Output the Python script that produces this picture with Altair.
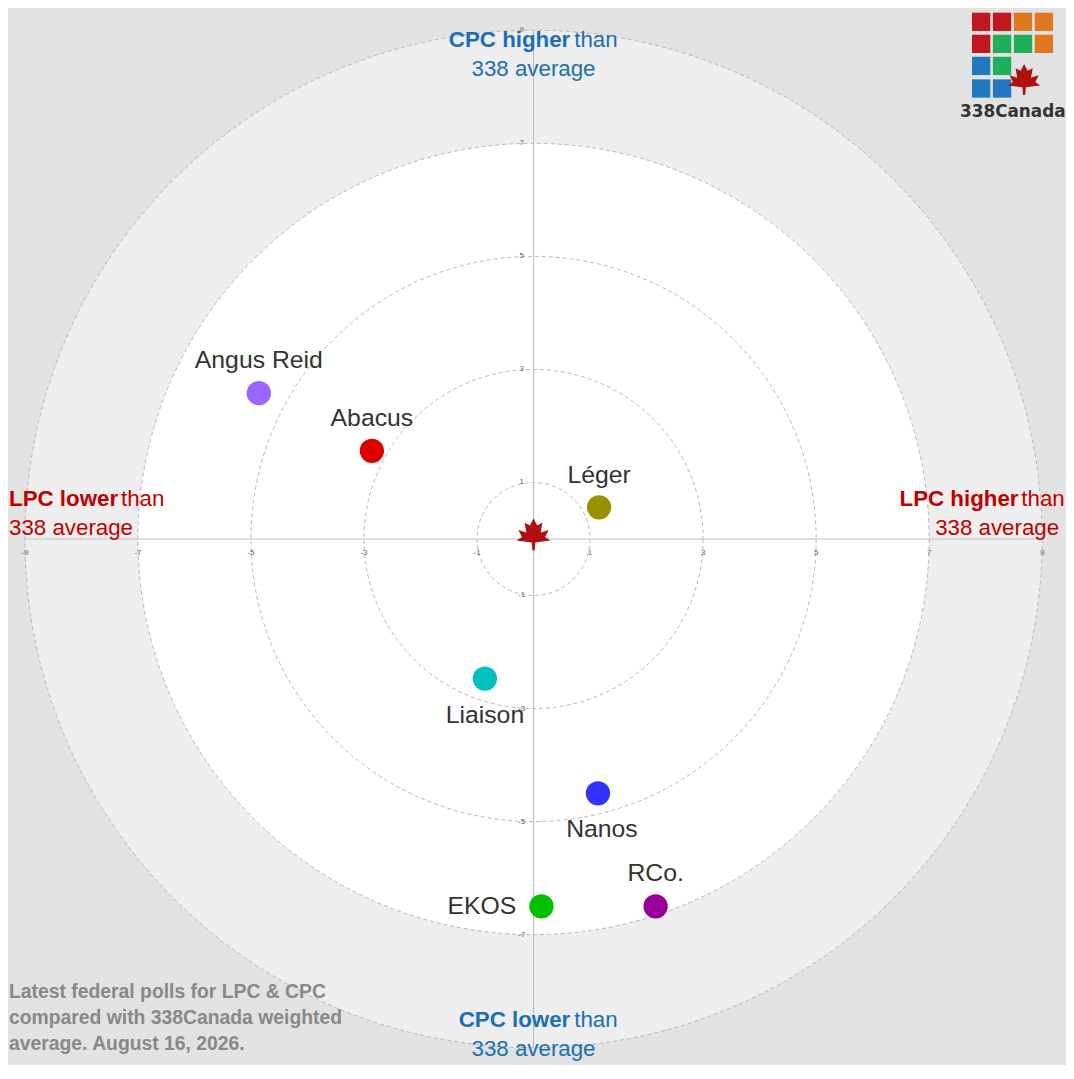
import altair as alt
import pandas as pd

# poll differences vs 338 average (LPC on x, CPC on y)
firms = ["Angus Reid", "Abacus", "Léger", "Liaison", "Nanos", "EKOS", "RCo."]
lpc_diff = [-4.86, -2.86, 1.16, -0.86, 1.14, 0.14, 2.16]
cpc_diff = [2.58, 1.56, 0.56, -2.47, -4.5, -6.5, -6.5]
colors = ["#9966ff", "#dd0000", "#999000", "#00c0c0", "#3333ff", "#00c000", "#990099"]
label_dx = [0, 0, 0, 0, 4, -60, 0]
label_dy = [-33, -33, -33, 37, 36, 0, -34]

ticks = [-9, -7, -5, -3, -1, 1, 3, 5, 7, 9]
rings = [9, 7, 5, 3, 1]
ring_fill = ["#eeeeee", "#ffffff", None, None, None]

PX = 57.0  # pixels per unit
W, H = 1050, 1050
cx, cy = 530, 531
xdom = [-cx / PX, (W - cx) / PX]
ydom = [-(H - cy) / PX, cy / PX]
X = alt.X("x:Q", scale=alt.Scale(domain=xdom), axis=None)
Y = alt.Y("y:Q", scale=alt.Scale(domain=ydom), axis=None)

layers = []
for r, f in zip(rings, ring_fill):
    d = pd.DataFrame({"x": [0], "y": [0]})
    kw = dict(shape="circle", size=(2 * r * PX) ** 2, stroke="#b5b5b5",
              strokeWidth=1, strokeDash=[4, 3], opacity=1)
    if f:
        m = alt.Chart(d).mark_point(filled=True, fill=f, **kw)
    else:
        m = alt.Chart(d).mark_point(filled=False, fill="transparent", **kw)
    layers.append(m.encode(x=X, y=Y))

axes = pd.DataFrame({"x": [-9, 0], "x2": [9, 0], "y": [0, -9], "y2": [0, 9]})
layers.append(alt.Chart(axes).mark_rule(color="#c0c0c0", strokeWidth=1.2).encode(
    x=X, x2="x2:Q", y=Y, y2="y2:Q"))

tk = pd.DataFrame({"x": ticks, "y": [0] * len(ticks), "t": [str(v) for v in ticks]})
layers.append(alt.Chart(tk).mark_text(fontSize=8, color="#666", dy=14, font="Liberation Sans").encode(
    x=X, y=Y, text="t:N"))
tky = pd.DataFrame({"x": [0] * len(ticks), "y": ticks, "t": [str(v) for v in ticks]})
layers.append(alt.Chart(tky).mark_text(fontSize=8, color="#666", dx=-12, font="Liberation Sans").encode(
    x=X, y=Y, text="t:N"))

leaf = ("M0,-1 L0.2,-0.6 L0.5,-0.75 L0.4,-0.2 L0.85,-0.35 L0.65,0.05 L0.95,0.25 "
        "L0.1,0.35 L0.06,0.8 L-0.06,0.8 L-0.1,0.35 L-0.95,0.25 L-0.65,0.05 "
        "L-0.85,-0.35 L-0.4,-0.2 L-0.5,-0.75 L-0.2,-0.6 Z")
layers.append(alt.Chart(pd.DataFrame({"x": [0], "y": [0.05]})).mark_point(
    shape=leaf, filled=True, color="#b01010", size=1300, opacity=1).encode(x=X, y=Y))

df = pd.DataFrame({"x": lpc_diff, "y": cpc_diff, "firm": firms, "c": colors,
                   "dx": label_dx, "dy": label_dy})
layers.append(alt.Chart(df).mark_circle(size=600, opacity=1).encode(
    x=X, y=Y, color=alt.Color("c:N", scale=None)))
for i, row in df.iterrows():
    layers.append(alt.Chart(df.iloc[[i]]).mark_text(
        fontSize=25, color="#333333", font="Liberation Sans",
        dx=int(row.dx), dy=int(row.dy)).encode(x=X, y=Y, text="firm:N"))

blue, red = "#1a6fb5", "#c00000"
cap_x = [0.65, 0.72, 0, 0.65, 0.72, 0, -9.28, -7.3, -9.28, 8.58, 8.63, 9.3]
cap_y = [8.83, 8.83, 8.32, -8.52, -8.52, -9.02, 0.7, 0.7, 0.19, 0.7, 0.7, 0.19]
cap_t = ["CPC higher", "than", "338 average", "CPC lower", "than", "338 average",
         "LPC lower", "than", "338 average", "LPC higher", "than", "338 average"]
cap_a = ["right", "left", "center", "right", "left", "center",
         "left", "left", "left", "right", "left", "right"]
cap_b = ["bold", "normal", "normal", "bold", "normal", "normal",
         "bold", "normal", "normal", "bold", "normal", "normal"]
cap_c = [blue] * 6 + [red] * 6
cap = pd.DataFrame({"x": cap_x, "y": cap_y, "t": cap_t})
for i in range(len(cap)):
    layers.append(alt.Chart(cap.iloc[[i]]).mark_text(
        fontSize=22.5, align=cap_a[i], fontWeight=cap_b[i], color=cap_c[i],
        font="Liberation Sans").encode(x=X, y=Y, text="t:N"))

note = ["Latest federal polls for LPC & CPC", "compared with 338Canada weighted",
        "average. August 16, 2026."]
nd = pd.DataFrame({"x": [-9.28] * 3, "y": [-8.02, -8.48, -8.93], "t": note})
layers.append(alt.Chart(nd).mark_text(fontSize=19.5, fontWeight="bold", color="#888888",
                                      align="left", font="Liberation Sans").encode(
    x=X, y=Y, text="t:N"))

# logo squares
sq_x = [7.92, 8.29, 8.66, 9.03, 7.92, 8.29, 8.66, 9.03, 7.92, 8.29, 7.92, 8.29]
sq_y = [9.15, 9.15, 9.15, 9.15, 8.76, 8.76, 8.76, 8.76, 8.37, 8.37, 7.97, 7.97]
sq_c = ["#c0181e", "#c0181e", "#e07820", "#e07820", "#c0181e", "#1fae5a", "#1fae5a",
        "#e07820", "#2279c0", "#1fae5a", "#2279c0", "#2279c0"]
sq = pd.DataFrame({"x": sq_x, "y": sq_y, "c": sq_c})
layers.append(alt.Chart(sq).mark_square(size=340, opacity=1).encode(
    x=X, y=Y, color=alt.Color("c:N", scale=None)))
layers.append(alt.Chart(pd.DataFrame({"x": [8.68], "y": [8.1]})).mark_point(
    shape=leaf, filled=True, color="#b01010", size=1200, opacity=1).encode(x=X, y=Y))
layers.append(alt.Chart(pd.DataFrame({"x": [8.48], "y": [7.55], "t": ["338Canada"]})).mark_text(
    fontSize=17, fontWeight="bold", color="#333", font="DejaVu Sans").encode(
    x=X, y=Y, text="t:N"))

chart = alt.layer(*layers).properties(
    width=W, height=H, padding=0, background="#e2e2e2"
).configure_view(stroke=None)

chart.save("out.html", embed_options={"renderer": "svg", "actions": False})
